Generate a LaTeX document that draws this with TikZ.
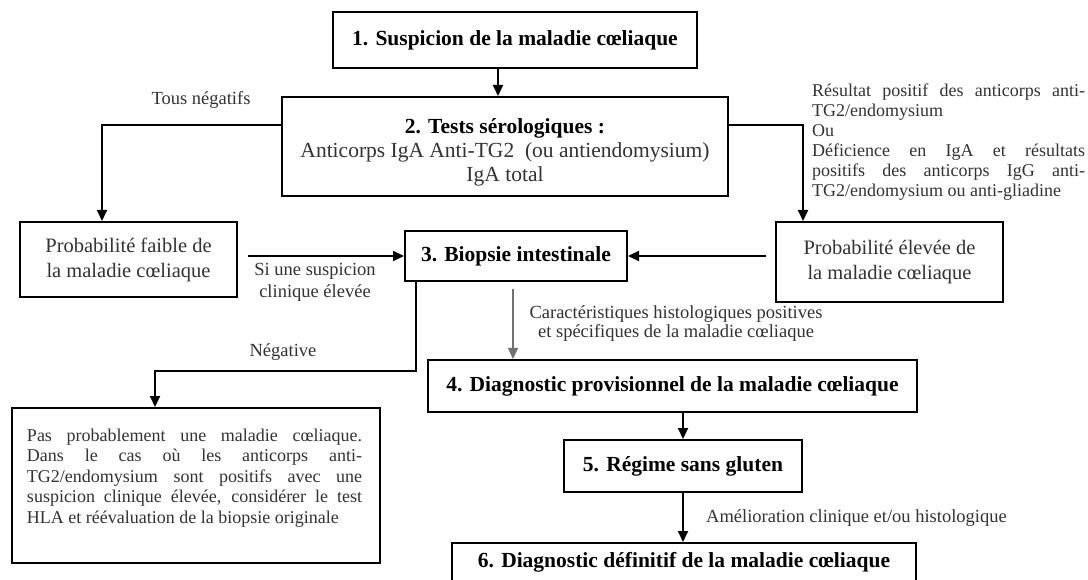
\documentclass[tikz,border=0pt]{standalone}
\usepackage{fontspec}
\setmainfont{Liberation Serif}
\usetikzlibrary{arrows.meta,calc}
\begin{document}
\begin{tikzpicture}[x=1pt,y=-1pt,
  box/.style={draw=black,line width=2pt,inner sep=0pt},
  head/.style={font=\fontsize{21.5}{24}\selectfont\bfseries,text=black},
  lab/.style={font=\fontsize{18.5}{21}\selectfont,text=black!80,inner sep=0pt},
  arr/.style={line width=2pt,-{Triangle[length=11pt,width=10pt]}}]
\useasboundingbox (0,0) rectangle (1088,580);
\clip (0,0) rectangle (1088,580);
\fill[white] (0,0) rectangle (1088,580);

% boxes
\node[box,head,minimum width=364pt,minimum height=56pt] (b1) at (515,40) {1. Suspicion de la maladie cœliaque};
\node[box,minimum width=446pt,minimum height=99pt] (b2) at (505,146.5) {};
\node[inner sep=0pt,align=center,font=\fontsize{21.5}{24}\selectfont,text=black!80] (b2t) at (505,152)
  {{\bfseries\color{black}2. Tests sérologiques :}\\Anticorps IgA Anti-TG2\ \ (ou antiendomysium)\\IgA total};
\node[box,align=center,font=\fontsize{20.5}{25}\selectfont,text=black!80,minimum width=217pt,minimum height=75pt] (pf) at (128.5,259.5)
  {Probabilité faible de\\la maladie cœliaque};
\node[box,align=center,font=\fontsize{20.5}{25}\selectfont,text=black!80,minimum width=227pt,minimum height=80pt] (pe) at (889.5,262)
  {Probabilité élevée de\\la maladie cœliaque};
\node[box,head,minimum width=222pt,minimum height=50pt] (b3) at (516,256) {3. Biopsie intestinale};
\node[box,head,minimum width=489pt,minimum height=52pt] (b4) at (672.5,386) {4. Diagnostic provisionnel de la maladie cœliaque};
\node[box,head,minimum width=238pt,minimum height=52pt] (b5) at (683,466) {5. Régime sans gluten};
\node[box,head,minimum width=464pt,minimum height=39pt] (b6) at (684,562.5) {6. Diagnostic définitif de la maladie cœliaque};
\node[box,minimum width=368pt,minimum height=155pt] (nb) at (196,485.5) {};
\node[inner sep=0pt,align=left,font=\fontsize{18}{20.5}\selectfont,text=black!80] (nbt) at (194.5,478)
  {\makebox[335pt][s]{Pas probablement une maladie cœliaque.}\\
   \makebox[335pt][s]{Dans le cas où les anticorps anti-}\\
   \makebox[335pt][s]{TG2/endomysium sont positifs avec une}\\
   \makebox[335pt][s]{suspicion clinique élevée, considérer le test}\\
   HLA et réévaluation de la biopsie originale};

% labels
\node[lab] (tn) at (201,100) {Tous négatifs};
\node[lab,anchor=west,align=left,font=\fontsize{18}{20}\selectfont] (rt) at (812,142)
  {\makebox[273pt][s]{Résultat positif des anticorps anti-}\\
   TG2/endomysium\\
   Ou\\
   \makebox[273pt][s]{Déficience en IgA et résultats}\\
   \makebox[273pt][s]{positifs des anticorps IgG anti-}\\
   TG2/endomysium ou anti-gliadine};
\node[lab,align=center,font=\fontsize{18.5}{22}\selectfont] (ss) at (315,282) {Si une suspicion\\clinique élevée};
\node[lab] (ng) at (283,352) {Négative};
\node[lab,align=center,font=\fontsize{18.5}{19}\selectfont] (ch) at (676,324)
  {Caractéristiques histologiques positives\\et spécifiques de la maladie cœliaque};
\node[lab,anchor=west] (am) at (706,518) {Amélioration clinique et/ou histologique};

% connectors
\draw[arr] ([xshift=-17pt]b1.south) -- ([xshift=-17pt]b1.south |- b2.north);
\draw[arr] ([yshift=21.5pt]b2.west) -| ([xshift=-26.5pt]pf.north);
\draw[arr] ([yshift=21.5pt]b2.east) -| ([xshift=-86.5pt]pe.north);
\draw[arr,shorten <=10pt] (pf.east |- b3.west) -- (b3.west);
\draw[arr,shorten <=9pt] (pe.west |- b3.east) -- (b3.east);
\draw[arr,draw=black!55,line width=1.3pt,shorten <=7pt] ([xshift=-3pt]b3.south) -- ([xshift=-3pt]b3.south |- b4.north);
\draw[arr] ([xshift=-100pt]b3.south) -- ++(0,89) -| ([xshift=-41pt]nb.north);
\draw[arr] (b4.south -| b5.north) -- (b5.north);
\draw[arr] (b5.south) -- (b5.south |- b6.north);
\end{tikzpicture}
\end{document}
